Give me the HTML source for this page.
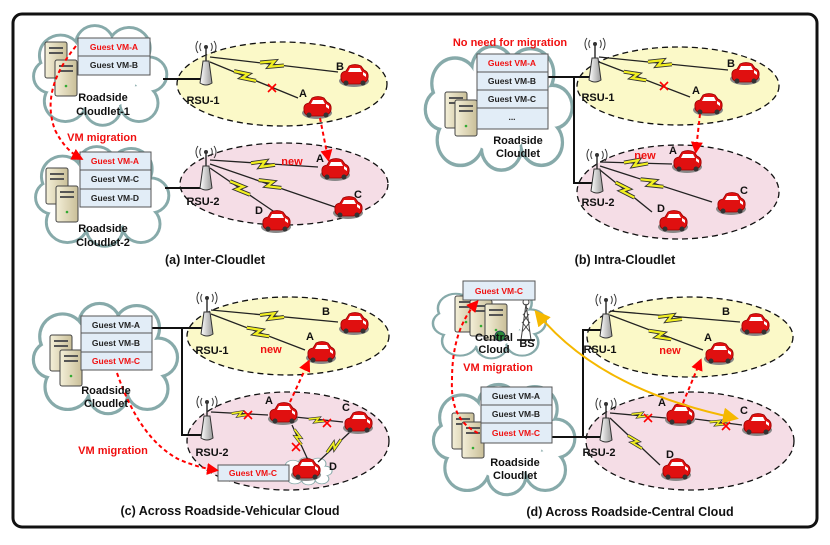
<!DOCTYPE html>
<html><head><meta charset="utf-8"><style>
html,body{margin:0;padding:0;background:#fff;}
svg{display:block;}
text{font-family:"Liberation Sans","DejaVu Sans",sans-serif;font-weight:bold;}
.vm{font-size:8.5px;fill:#222;}
.vr{font-size:8.5px;fill:#f01010;}
.lb{font-size:11px;fill:#111;}
.red{font-size:11px;fill:#f01010;}
.cap{font-size:12.5px;fill:#111;}
.cl{font-size:11px;fill:#111;}
</style></head><body>
<svg width="830" height="545" viewBox="0 0 830 545" xmlns="http://www.w3.org/2000/svg">
<defs>
<g id="cb">
<circle cx="25" cy="30" r="20"/><circle cx="60" cy="18" r="18"/><circle cx="95" cy="22" r="20"/>
<circle cx="115" cy="50" r="17"/><circle cx="105" cy="80" r="18"/><circle cx="68" cy="85" r="17"/>
<circle cx="30" cy="78" r="20"/><circle cx="15" cy="52" r="16"/><circle cx="65" cy="50" r="38"/>
</g>
<linearGradient id="tg" x1="0" x2="1"><stop offset="0" stop-color="#fff"/><stop offset="1" stop-color="#999"/></linearGradient>
<linearGradient id="sg" x1="0" x2="1"><stop offset="0" stop-color="#f4efd8"/><stop offset="1" stop-color="#c9bf98"/></linearGradient>
<g id="tower">
<path d="M-5,-4 A7,7 0 0 0 -5,4 M5,-4 A7,7 0 0 1 5,4 M-8,-6 A10,10 0 0 0 -8,6 M8,-6 A10,10 0 0 1 8,6" fill="none" stroke="#333" stroke-width="1"/>
<circle cx="0" cy="0" r="2" fill="#333"/>
<line x1="0" y1="0" x2="0" y2="14" stroke="#333" stroke-width="1.5"/>
<path d="M-3,14 L3,14 L6,36 Q0,40 -6,36 Z" fill="url(#tg)" stroke="#333" stroke-width="1"/>
</g>
<g id="srv">
<rect x="0" y="0" width="22" height="36" rx="2" fill="url(#sg)" stroke="#444" stroke-width="1"/>
<rect x="4" y="5" width="14" height="2" fill="#555"/><rect x="4" y="10" width="14" height="2" fill="#555"/>
<circle cx="11" cy="26" r="1.3" fill="#3a3"/>
</g>
<g id="car">
<ellipse cx="15" cy="17" rx="15" ry="6" fill="#888"/>
<path d="M2,14 Q1,8 7,7 L10,2 Q16,-1 22,2 L25,6 Q30,8 29,14 Q28,19 20,20 L8,20 Q2,19 2,14 Z" fill="#e01010" stroke="#900" stroke-width="0.8"/>
<path d="M11,4 L21,4 L23,8 L9,8 Z" fill="#fff"/>
<path d="M24,8 L27,10 L27,13 L24,11Z" fill="#fff"/>
<circle cx="7" cy="19" r="2.5" fill="#333"/><circle cx="24" cy="19" r="2.5" fill="#333"/>
</g>
<g id="bolt">
<path d="M-12,0 L2,-3 L-2,3 L12,0" fill="none" stroke="#333" stroke-width="4" stroke-linejoin="miter"/>
<path d="M-12,0 L2,-3 L-2,3 L12,0" fill="none" stroke="#f2f020" stroke-width="2.2"/>
</g>
<g id="x"><path d="M-4,-4 L4,4 M4,-4 L-4,4" stroke="#f00" stroke-width="1.6"/></g>
<marker id="ar" markerWidth="6" markerHeight="6" refX="4" refY="3" orient="auto"><path d="M0,0 L6,3 L0,6 Z" fill="#f00"/></marker>
<marker id="ao" markerWidth="8" markerHeight="8" refX="6" refY="4" orient="auto"><path d="M0,0 L8,4 L0,8 Z" fill="#f5b800"/></marker>
<marker id="ao2" markerWidth="8" markerHeight="8" refX="2" refY="4" orient="auto"><path d="M8,0 L0,4 L8,8 Z" fill="#f5b800"/></marker>
</defs>

<rect x="13" y="14" width="804" height="513" rx="9" fill="none" stroke="#111" stroke-width="3"/>

<!-- ellipses -->
<g stroke="#111" stroke-width="1.3" stroke-dasharray="6,4">
<ellipse cx="282" cy="84" rx="105" ry="42" fill="#fbf9c8"/>
<ellipse cx="284" cy="184" rx="104" ry="41" fill="#f5dde6"/>
<ellipse cx="678" cy="86" rx="101" ry="39" fill="#fbf9c8"/>
<ellipse cx="678" cy="192" rx="101" ry="47" fill="#f5dde6"/>
<ellipse cx="288" cy="336" rx="101" ry="39" fill="#fbf9c8"/>
<ellipse cx="288" cy="441" rx="101" ry="49" fill="#f5dde6"/>
<ellipse cx="690" cy="337" rx="103" ry="40" fill="#fbf9c8"/>
<ellipse cx="690" cy="441" rx="104" ry="49" fill="#f5dde6"/>
</g>

<!-- clouds -->
<g stroke="#87aaaa" stroke-width="6" fill="none">
<use href="#cb" transform="translate(36,27) scale(0.98,0.95)"/>
<use href="#cb" transform="translate(38,148) scale(0.98,0.95)"/>
<use href="#cb" transform="translate(428,48) scale(1.08,1.18)"/>
<use href="#cb" transform="translate(36,305) scale(1.06,1.05)"/>
<use href="#cb" transform="translate(435,288) scale(0.83,0.68)"/>
<use href="#cb" transform="translate(436,386) scale(1.04,1.05)"/>
<use href="#cb" transform="translate(284,458) scale(0.36,0.26)"/>
</g>
<g fill="#fff">
<use href="#cb" transform="translate(36,27) scale(0.98,0.95)"/>
<use href="#cb" transform="translate(38,148) scale(0.98,0.95)"/>
<use href="#cb" transform="translate(428,48) scale(1.08,1.18)"/>
<use href="#cb" transform="translate(36,305) scale(1.06,1.05)"/>
<use href="#cb" transform="translate(435,288) scale(0.83,0.68)"/>
<use href="#cb" transform="translate(436,386) scale(1.04,1.05)"/>
<use href="#cb" transform="translate(284,458) scale(0.36,0.26)"/>
</g>

<!-- wired lines -->
<g stroke="#111" stroke-width="2" fill="none">
<path d="M163,79 L203,79"/><path d="M165,188 L203,188"/>
<path d="M548,77 L593,77 M574,77 L574,183 L593,183"/>
<path d="M152,328 L205,328 M182,328 L182,435 L205,435"/>
<path d="M552,437 L600,437 M583,437 L583,330 L602,330"/>
</g>

<!-- servers -->
<use href="#srv" x="45" y="42"/><use href="#srv" x="55" y="60"/>
<use href="#srv" x="46" y="168"/><use href="#srv" x="56" y="186"/>
<use href="#srv" x="445" y="92"/><use href="#srv" x="455" y="100"/>
<use href="#srv" x="50" y="335"/><use href="#srv" x="60" y="350"/>
<use href="#srv" x="455" y="296"/><use href="#srv" x="470" y="300"/><use href="#srv" x="485" y="304" transform="translate(0,0)"/>
<circle cx="500" cy="336" r="5" fill="#2a8a3a" stroke="#235" stroke-width="0.8"/>
<use href="#srv" x="452" y="413"/><use href="#srv" x="462" y="422"/>
<!-- BS -->
<g stroke="#444" stroke-width="1" fill="none">
<path d="M521,340 L526,304 L531,340 M522,332 L530,322 M523,322 L529,314 M524,314 L528,308 M530,332 L522,322 M529,322 L523,314"/>
<circle cx="526" cy="302" r="3"/>
<line x1="517" y1="340" x2="535" y2="340" stroke-width="2"/>
</g>

<!-- VM boxes -->
<g fill="#e2edf7" stroke="#555" stroke-width="1">
<rect x="78" y="38" width="72" height="18"/><rect x="78" y="56" width="72" height="19"/>
<rect x="80" y="152" width="71" height="18"/><rect x="80" y="170" width="71" height="19"/><rect x="80" y="189" width="71" height="18"/>
<rect x="477" y="54" width="71" height="18"/><rect x="477" y="72" width="71" height="18"/><rect x="477" y="90" width="71" height="18"/><rect x="477" y="108" width="71" height="21"/>
<rect x="81" y="316" width="71" height="17"/><rect x="81" y="333" width="71" height="19"/><rect x="81" y="352" width="71" height="18"/>
<rect x="463" y="281" width="72" height="19"/>
<rect x="481" y="387" width="71" height="18"/><rect x="481" y="405" width="71" height="18"/><rect x="481" y="423" width="71" height="20"/>
<rect x="218" y="465" width="71" height="16"/>
</g>
<g text-anchor="middle">
<text class="vr" x="114" y="50">Guest VM-A</text><text class="vm" x="114" y="68">Guest VM-B</text>
<text class="vr" x="115" y="164">Guest VM-A</text><text class="vm" x="115" y="182">Guest VM-C</text><text class="vm" x="115" y="201">Guest VM-D</text>
<text class="vr" x="512" y="66">Guest VM-A</text><text class="vm" x="512" y="84">Guest VM-B</text><text class="vm" x="512" y="102">Guest VM-C</text><text class="vm" x="512" y="120">...</text>
<text class="vm" x="116" y="328">Guest VM-A</text><text class="vm" x="116" y="346">Guest VM-B</text><text class="vr" x="116" y="364">Guest VM-C</text>
<text class="vr" x="499" y="294">Guest VM-C</text>
<text class="vm" x="516" y="399">Guest VM-A</text><text class="vm" x="516" y="417">Guest VM-B</text><text class="vr" x="516" y="436">Guest VM-C</text>
<text class="vr" x="253" y="476">Guest VM-C</text>
</g>

<!-- towers -->
<use href="#tower" x="206" y="47"/><use href="#tower" x="206" y="152"/>
<use href="#tower" x="595" y="44"/><use href="#tower" x="597" y="155"/>
<use href="#tower" x="207" y="298"/><use href="#tower" x="207" y="402"/>
<use href="#tower" x="606" y="300"/><use href="#tower" x="606" y="404"/>

<!-- radio links -->
<g stroke="#222" stroke-width="1.3">
<line x1="210" y1="57" x2="338" y2="72"/><line x1="210" y1="62" x2="298" y2="98"/>
<line x1="210" y1="160" x2="318" y2="167"/><line x1="210" y1="164" x2="335" y2="207"/><line x1="210" y1="168" x2="276" y2="213"/>
<line x1="599" y1="57" x2="728" y2="70"/><line x1="599" y1="62" x2="690" y2="97"/>
<line x1="600" y1="162" x2="672" y2="164"/><line x1="600" y1="166" x2="712" y2="202"/><line x1="600" y1="170" x2="652" y2="212"/>
<line x1="211" y1="310" x2="338" y2="322"/><line x1="211" y1="314" x2="305" y2="350"/>
<line x1="211" y1="412" x2="268" y2="415"/><line x1="295" y1="417" x2="343" y2="422"/><line x1="292" y1="425" x2="308" y2="460"/><line x1="350" y1="432" x2="318" y2="462"/>
<line x1="610" y1="311" x2="740" y2="322"/><line x1="610" y1="315" x2="703" y2="350"/>
<line x1="610" y1="413" x2="666" y2="418"/><line x1="695" y1="419" x2="742" y2="425"/><line x1="610" y1="418" x2="660" y2="465"/>
</g>
<use href="#bolt" transform="translate(272,64) rotate(7)"/>
<use href="#bolt" transform="translate(245,76) rotate(24)"/>
<use href="#bolt" transform="translate(263,164) rotate(4)"/>
<use href="#bolt" transform="translate(270,184) rotate(19)"/>
<use href="#bolt" transform="translate(240,188) rotate(34)"/>
<use href="#bolt" transform="translate(660,63) rotate(6)"/>
<use href="#bolt" transform="translate(635,76) rotate(21)"/>
<use href="#bolt" transform="translate(636,163) rotate(2)"/>
<use href="#bolt" transform="translate(652,183) rotate(18)"/>
<use href="#bolt" transform="translate(625,190) rotate(39)"/>
<use href="#bolt" transform="translate(272,316) rotate(5)"/>
<use href="#bolt" transform="translate(258,332) rotate(21)"/>
<use href="#bolt" transform="translate(240,414) rotate(3) scale(0.7)"/>
<use href="#bolt" transform="translate(317,420) rotate(6) scale(0.7)"/>
<use href="#bolt" transform="translate(298,437) rotate(65) scale(0.7)"/>
<use href="#bolt" transform="translate(334,446) rotate(-43) scale(0.8)"/>
<use href="#bolt" transform="translate(670,318) rotate(5)"/>
<use href="#bolt" transform="translate(660,335) rotate(21)"/>
<use href="#bolt" transform="translate(640,415) rotate(5) scale(0.7)"/>
<use href="#bolt" transform="translate(718,423) rotate(7) scale(0.7)"/>
<use href="#bolt" transform="translate(635,442) rotate(43) scale(0.8)"/>
<use href="#x" x="272" y="88"/><use href="#x" x="664" y="86"/>
<use href="#x" x="248" y="415"/><use href="#x" x="327" y="423"/><use href="#x" x="296" y="447"/>
<use href="#x" x="648" y="418"/><use href="#x" x="726" y="426"/>

<!-- cars -->
<use href="#car" x="339" y="64"/><use href="#car" x="302" y="96"/>
<use href="#car" x="320" y="158"/><use href="#car" x="333" y="196"/><use href="#car" x="261" y="210"/>
<use href="#car" x="730" y="62"/><use href="#car" x="693" y="93"/>
<use href="#car" x="672" y="150"/><use href="#car" x="716" y="192"/><use href="#car" x="658" y="210"/>
<use href="#car" x="339" y="312"/><use href="#car" x="306" y="341"/>
<use href="#car" x="268" y="402"/><use href="#car" x="343" y="411"/><use href="#car" x="291" y="458"/>
<use href="#car" x="740" y="313"/><use href="#car" x="704" y="342"/>
<use href="#car" x="665" y="403"/><use href="#car" x="742" y="413"/><use href="#car" x="661" y="458"/>

<!-- migration arrows -->
<g stroke="#f00" stroke-width="2" stroke-dasharray="4,3" fill="none" marker-end="url(#ar)">
<path d="M76,46 Q40,90 55,130 Q65,150 80,158"/>
<path d="M320,118 L328,158"/>
<path d="M700,114 L696,150"/>
<path d="M117,373 Q140,440 180,460 Q200,468 215,470"/>
<path d="M290,402 L308,363"/>
<path d="M478,433 Q450,420 452,380 Q452,330 476,303"/>
<path d="M683,403 L700,362"/>
</g>
<path d="M537,313 Q600,390 735,418" stroke="#f5b800" stroke-width="2" fill="none" marker-end="url(#ao)" marker-start="url(#ao2)"/>

<!-- labels -->
<g text-anchor="middle">
<text class="lb" x="103" y="101">Roadside</text><text class="lb" x="103" y="115">Cloudlet-1</text>
<text class="lb" x="103" y="232">Roadside</text><text class="lb" x="103" y="246">Cloudlet-2</text>
<text class="red" x="102" y="141">VM migration</text>
<text class="lb" x="203" y="104">RSU-1</text><text class="lb" x="203" y="205">RSU-2</text>
<text class="red" x="292" y="165">new</text>
<text class="cap" x="215" y="264">(a) Inter-Cloudlet</text>

<text class="red" x="510" y="46">No need for migration</text>
<text class="lb" x="518" y="144">Roadside</text><text class="lb" x="518" y="157">Cloudlet</text>
<text class="lb" x="598" y="101">RSU-1</text><text class="lb" x="598" y="206">RSU-2</text>
<text class="red" x="645" y="159">new</text>
<text class="cap" x="625" y="264">(b) Intra-Cloudlet</text>

<text class="lb" x="106" y="394">Roadside</text><text class="lb" x="106" y="407">Cloudlet</text>
<text class="lb" x="212" y="354">RSU-1</text><text class="lb" x="212" y="456">RSU-2</text>
<text class="red" x="271" y="353">new</text>
<text class="red" x="113" y="454">VM migration</text>
<text class="cap" x="230" y="515">(c) Across Roadside-Vehicular Cloud</text>

<text class="cl" x="494" y="341">Central</text><text class="cl" x="494" y="353">Cloud</text>
<text class="lb" x="527" y="347">BS</text>
<text class="red" x="498" y="371">VM migration</text>
<text class="lb" x="515" y="466">Roadside</text><text class="lb" x="515" y="479">Cloudlet</text>
<text class="lb" x="600" y="353">RSU-1</text><text class="lb" x="599" y="456">RSU-2</text>
<text class="red" x="670" y="354">new</text>
<text class="cap" x="630" y="516">(d) Across Roadside-Central Cloud</text>
</g>
<g class="lb" font-size="10">
<text class="lb" x="336" y="70">B</text><text class="lb" x="299" y="97">A</text>
<text class="lb" x="316" y="162">A</text><text class="lb" x="354" y="198">C</text><text class="lb" x="255" y="214">D</text>
<text class="lb" x="727" y="67">B</text><text class="lb" x="692" y="94">A</text>
<text class="lb" x="669" y="154">A</text><text class="lb" x="740" y="194">C</text><text class="lb" x="657" y="212">D</text>
<text class="lb" x="322" y="315">B</text><text class="lb" x="306" y="340">A</text>
<text class="lb" x="265" y="404">A</text><text class="lb" x="342" y="411">C</text><text class="lb" x="329" y="470">D</text>
<text class="lb" x="722" y="315">B</text><text class="lb" x="704" y="341">A</text>
<text class="lb" x="658" y="406">A</text><text class="lb" x="740" y="414">C</text><text class="lb" x="666" y="458">D</text>
</g>
</svg>
</body></html>
